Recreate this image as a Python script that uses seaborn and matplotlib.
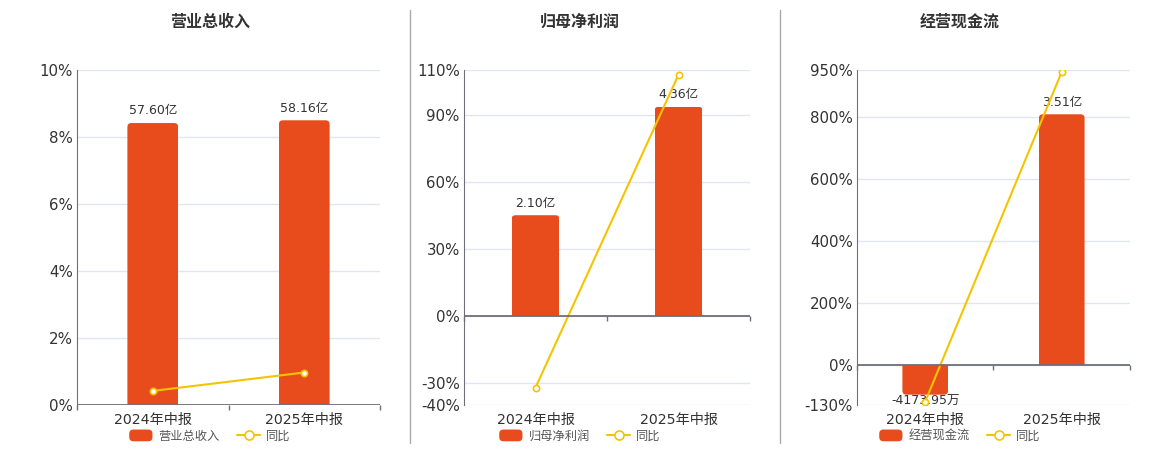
import matplotlib
matplotlib.use('Agg')
import matplotlib.pyplot as plt
import seaborn as sns
from matplotlib.lines import Line2D
from matplotlib.patches import FancyBboxPatch, Rectangle
from matplotlib.container import BarContainer
from matplotlib.legend_handler import HandlerPatch

sns.set_style('white')
plt.rcParams['font.family'] = ['DejaVu Sans', 'Noto Sans CJK SC']

# 数据
periods = ['2024年中报', '2025年中报']
titles = ['营业总收入', '归母净利润', '经营现金流']

revenue = [57.60, 58.16]            # 亿
revenue_yoy = [0.42, 0.97]          # %
revenue_labels = ['57.60亿', '58.16亿']
revenue_ticks = [0, 2, 4, 6, 8, 10]

profit = [2.10, 4.36]
profit_yoy = [-32.2, 107.9]
profit_labels = ['2.10亿', '4.36亿']
profit_ticks = [-40, -30, 0, 30, 60, 90, 110]

cashflow = [-0.417395, 3.51]
cashflow_yoy = [-118.8, 943.7]
cashflow_labels = ['-4173.95万', '3.51亿']
cashflow_ticks = [-130, 0, 200, 400, 600, 800, 950]

BAR = '#e84c1c'
LINE = '#f5c400'
AXIS = '#6e7079'
TEXT = '#333333'


def round_bars(a, container, r=4):
    # 柱子顶端圆角
    p0 = a.transData.transform((0, 0))
    p1 = a.transData.transform((1, 1))
    rx = r / (p1[0] - p0[0])
    ry = r / (p1[1] - p0[1])
    for bar in container.patches:
        x0, w = bar.get_x(), bar.get_width()
        lo = min(bar.get_y(), bar.get_y() + bar.get_height())
        hi = max(bar.get_y(), bar.get_y() + bar.get_height())
        if bar.get_height() >= 0:
            blo, bhi = lo - ry, hi
        else:
            blo, bhi = lo, hi + ry
        fb = FancyBboxPatch((x0, blo), w, bhi - blo,
                            boxstyle=f'round,pad=0,rounding_size={rx}',
                            mutation_aspect=ry / rx, fc=BAR, ec='none',
                            transform=a.transData)
        a.add_patch(fb)
        fb.set_clip_path(Rectangle((x0, lo), w, hi - lo, transform=a.transData))
        bar.remove()


def legend_box(legend, orig_handle, xdescent, ydescent, width, height, fontsize):
    return FancyBboxPatch((-xdescent, -ydescent), width, height,
                          boxstyle='round,pad=0,rounding_size=3', fc=BAR, ec='none')


fig = plt.figure(figsize=(11.6, 4.5), dpi=100)

panels = [
    (revenue, revenue_yoy, revenue_labels, titles[0], revenue_ticks,
     [0.0664, 0.1, 0.2612, 0.7444], (0, 68.43), 210),
    (profit, profit_yoy, profit_labels, titles[1], profit_ticks,
     [0.4, 0.1, 0.2466, 0.7444], (-1.854, 5.125), 580),
    (cashflow, cashflow_yoy, cashflow_labels, titles[2], cashflow_ticks,
     [0.7388, 0.1, 0.2353, 0.7444], (-0.562, 4.13), 960),
]

for vals, yoy, labels, title, ticks, rect, blim, xc in panels:
    ax = fig.add_axes(rect)
    bx = ax.twinx()
    cx = ax.twinx()

    ax.set_ylim(ticks[0], ticks[-1])
    ax.set_yticks(ticks, [f'{t}%' for t in ticks])
    ax.grid(axis='y', color='#e0e6f1', lw=1)
    ax.set_axisbelow(True)
    for s in ['top', 'right', 'bottom']:
        ax.spines[s].set_visible(False)
    ax.spines['left'].set_color(AXIS)

    # 柱子
    sns.barplot(x=periods, y=vals, ax=bx, color=BAR, width=0.335, saturation=1)
    bx.set_ylim(blim)
    bx.set_xlim(-0.5, 1.5)
    bx.set_yticks([])
    bx.set_ylabel('')
    bars = bx.containers[0]
    pos_labels = [l if v >= 0 else '' for l, v in zip(labels, vals)]
    neg_labels = [l if v < 0 else '' for l, v in zip(labels, vals)]
    bx.bar_label(bars, labels=pos_labels, padding=4, fontsize=9, color=TEXT)
    bx.bar_label(bars, labels=neg_labels, padding=0, fontsize=9, color=TEXT)
    round_bars(bx, bars)

    # 同比
    sns.lineplot(x=periods, y=yoy, ax=cx, color=LINE, lw=1.5, marker='o', ms=4.5,
                 markerfacecolor='white', markeredgecolor=LINE, markeredgewidth=1.2, sort=False)
    cx.set_ylim(ax.get_ylim())
    cx.set_yticks([])
    cx.set_ylabel('')
    cx.axhline(0, color=AXIS, lw=1.3)
    tick = (ticks[-1] - ticks[0]) * 5 / 335
    cx.vlines([-0.5, 0.5, 1.5], 0, -tick, color=AXIS, lw=1, clip_on=False)

    for a in (bx, cx):
        for s in a.spines.values():
            s.set_visible(False)

    ax.set_xlim(-0.5, 1.5)
    ax.set_xticks([0, 1], periods)
    ax.tick_params(axis='x', length=0, pad=6, labelsize=10.2, colors=TEXT)
    ax.tick_params(axis='y', length=0, pad=3, labelsize=10.8, colors=TEXT)

    fig.text(xc / 1160, 0.951, title, ha='center', va='center',
             fontsize=11.5, fontweight='bold', color=TEXT)
    fig.legend(handles=[bars, cx.lines[0]], labels=[title, '同比'],
               handler_map={BarContainer: HandlerPatch(patch_func=legend_box,
                                                       update_func=lambda h, o: None)},
               loc='center', bbox_to_anchor=(xc / 1160, 0.031), ncol=2, frameon=False,
               fontsize=8.8, handlelength=1.9, handleheight=1.1, columnspacing=1.4,
               handletextpad=0.5, labelcolor='#555555', markerscale=1.45, numpoints=1)

for x in (410, 780):
    fig.add_artist(Line2D([x / 1160, x / 1160], [0.978, 0.0156], color='#aaaaaa', lw=1))

fig.savefig('out.png', dpi=100)
